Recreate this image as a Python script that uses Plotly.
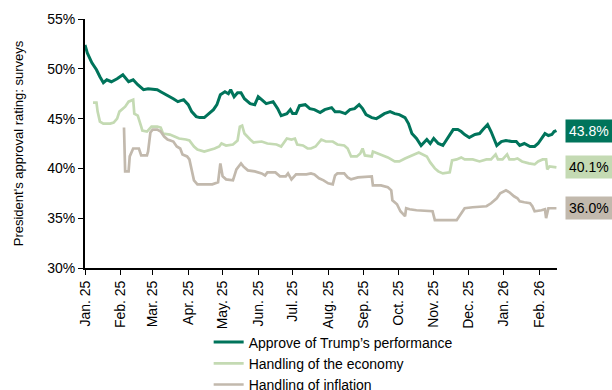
import plotly.graph_objects as go

# ---------------- data ----------------
approve_dates = [
    "2025-01-01", "2025-01-03", "2025-01-07", "2025-01-11", "2025-01-14", "2025-01-17", "2025-01-20",
    "2025-01-24", "2025-01-29", "2025-02-03", "2025-02-08", "2025-02-12", "2025-02-16", "2025-02-21",
    "2025-02-25", "2025-03-05", "2025-03-08", "2025-03-13", "2025-03-19", "2025-03-23", "2025-03-28",
    "2025-04-01", "2025-04-04", "2025-04-08", "2025-04-11", "2025-04-15", "2025-04-18", "2025-04-23",
    "2025-04-26", "2025-04-29", "2025-05-03", "2025-05-06", "2025-05-08", "2025-05-11", "2025-05-14",
    "2025-05-17", "2025-05-20", "2025-05-25", "2025-05-29", "2025-06-01", "2025-06-04", "2025-06-08",
    "2025-06-14", "2025-06-18", "2025-06-21", "2025-06-26", "2025-06-29", "2025-07-01", "2025-07-04",
    "2025-07-07", "2025-07-12", "2025-07-16", "2025-07-20", "2025-07-25", "2025-07-29", "2025-08-04",
    "2025-08-07", "2025-08-11", "2025-08-16", "2025-08-20", "2025-08-24", "2025-08-28", "2025-08-31",
    "2025-09-03", "2025-09-08", "2025-09-12", "2025-09-15", "2025-09-19", "2025-09-24", "2025-09-28",
    "2025-10-02", "2025-10-07", "2025-10-10", "2025-10-13", "2025-10-17", "2025-10-21", "2025-10-26",
    "2025-10-29", "2025-11-01", "2025-11-05", "2025-11-09", "2025-11-13", "2025-11-18", "2025-11-22",
    "2025-11-25", "2025-11-28", "2025-12-02", "2025-12-07", "2025-12-11", "2025-12-14", "2025-12-18",
    "2025-12-21", "2025-12-26", "2025-12-30", "2026-01-03", "2026-01-08", "2026-01-12", "2026-01-15",
    "2026-01-19", "2026-01-24", "2026-01-28", "2026-01-31", "2026-02-03", "2026-02-06", "2026-02-09",
    "2026-02-12", "2026-02-14", "2026-02-16",
]
approve_values = [
    52.4, 51.6, 50.6, 49.9, 49.2, 48.6, 48.9,
    48.7, 49.0, 49.4, 48.7, 48.9, 48.4, 47.9,
    48.0, 47.9, 47.7, 47.4, 47.0, 46.7, 46.9,
    46.4, 45.7, 45.2, 45.1, 45.1, 45.4, 45.9,
    46.4, 47.4, 47.7, 47.5, 47.9, 47.2, 47.6,
    47.6, 47.0, 46.5, 46.4, 47.2, 46.9, 46.5,
    46.7, 46.0, 45.3, 45.5, 45.9, 45.5, 45.5,
    46.3, 46.4, 46.0, 45.9, 45.6, 45.9, 46.1,
    45.7, 45.7, 45.5, 45.9, 46.0, 46.4, 46.0,
    45.4, 45.1, 45.0, 45.2, 45.5, 45.7, 45.5,
    45.4, 45.1, 44.5, 43.5, 43.0, 42.3, 42.9,
    42.5, 43.0, 42.5, 42.3, 43.0, 43.9, 43.9,
    43.7, 43.4, 43.1, 43.4, 43.5, 43.9, 44.4,
    43.7, 42.3, 42.7, 42.8, 42.7, 42.7, 42.3,
    42.5, 42.2, 42.2, 42.5, 43.0, 43.5, 43.3,
    43.4, 43.7, 43.8,
]

economy_dates = [
    "2025-01-08", "2025-01-11", "2025-01-12", "2025-01-14", "2025-01-17", "2025-01-23", "2025-01-26",
    "2025-01-29", "2025-01-31", "2025-02-05", "2025-02-08", "2025-02-11", "2025-02-12", "2025-02-13",
    "2025-02-16", "2025-02-19", "2025-02-20", "2025-02-24", "2025-02-28", "2025-03-05", "2025-03-08",
    "2025-03-10", "2025-03-16", "2025-03-20", "2025-03-24", "2025-03-30", "2025-04-02", "2025-04-06",
    "2025-04-09", "2025-04-15", "2025-04-19", "2025-04-24", "2025-04-28", "2025-04-30", "2025-05-04",
    "2025-05-10", "2025-05-14", "2025-05-16", "2025-05-18", "2025-05-20", "2025-05-25", "2025-05-28",
    "2025-06-04", "2025-06-09", "2025-06-17", "2025-06-21", "2025-06-26", "2025-06-30", "2025-07-03",
    "2025-07-05", "2025-07-10", "2025-07-14", "2025-07-17", "2025-07-21", "2025-07-26", "2025-07-30",
    "2025-08-05", "2025-08-09", "2025-08-15", "2025-08-18", "2025-08-21", "2025-08-26", "2025-08-29",
    "2025-08-31", "2025-09-02", "2025-09-08", "2025-09-09", "2025-09-16", "2025-09-22", "2025-09-28",
    "2025-10-02", "2025-10-07", "2025-10-11", "2025-10-15", "2025-10-19", "2025-10-26", "2025-10-29",
    "2025-11-02", "2025-11-05", "2025-11-09", "2025-11-15", "2025-11-17", "2025-11-21", "2025-11-25",
    "2025-11-28", "2025-12-05", "2025-12-11", "2025-12-17", "2025-12-21", "2025-12-25", "2025-12-27",
    "2025-12-31", "2026-01-04", "2026-01-06", "2026-01-10", "2026-01-13", "2026-01-17", "2026-01-23",
    "2026-01-28", "2026-01-31", "2026-02-04", "2026-02-07", "2026-02-08", "2026-02-10", "2026-02-16",
]
economy_values = [
    46.6, 46.6, 45.7, 44.7, 44.5, 44.5, 44.6,
    45.0, 45.7, 46.2, 46.7, 46.9, 46.9, 45.5,
    45.3, 44.2, 43.8, 43.7, 44.2, 44.2, 44.1,
    43.5, 43.4, 43.2, 43.0, 42.9, 42.8, 42.2,
    41.9, 41.7, 41.8, 42.0, 42.2, 42.5, 42.3,
    42.4, 42.8, 44.2, 44.3, 43.5, 42.9, 42.6,
    42.7, 42.5, 42.4, 42.2, 43.0, 42.9, 43.0,
    42.4, 42.3, 42.0, 42.0, 42.2, 42.9, 42.7,
    42.7, 42.4, 42.3, 42.0, 41.2, 41.2, 41.5,
    42.0, 41.3, 41.2, 41.7, 41.4, 41.1, 40.7,
    40.7, 41.0, 41.2, 41.4, 41.6, 41.2, 40.6,
    40.0, 39.7, 39.5, 39.6, 40.8, 40.9, 41.1,
    40.9, 40.9, 40.7, 40.9, 40.9, 41.4, 40.9,
    40.9, 41.4, 40.9, 40.9, 41.0, 40.7, 40.5,
    40.4, 40.7, 40.9, 40.9, 39.9, 40.2, 40.1,
]

inflation_dates = [
    "2025-02-04", "2025-02-05", "2025-02-08", "2025-02-09", "2025-02-12", "2025-02-17", "2025-02-19",
    "2025-02-24", "2025-02-25", "2025-02-27", "2025-03-01", "2025-03-05", "2025-03-08", "2025-03-11",
    "2025-03-14", "2025-03-19", "2025-03-22", "2025-03-25", "2025-03-27", "2025-03-31", "2025-04-02",
    "2025-04-04", "2025-04-06", "2025-04-09", "2025-04-22", "2025-04-27", "2025-04-29", "2025-05-01",
    "2025-05-04", "2025-05-10", "2025-05-13", "2025-05-17", "2025-05-19", "2025-05-23", "2025-05-29",
    "2025-06-04", "2025-06-07", "2025-06-09", "2025-06-16", "2025-06-20", "2025-06-25", "2025-06-27",
    "2025-06-30", "2025-07-04", "2025-07-13", "2025-07-17", "2025-07-20", "2025-07-24", "2025-07-28",
    "2025-08-01", "2025-08-05", "2025-08-07", "2025-08-09", "2025-08-15", "2025-08-18", "2025-08-21",
    "2025-08-27", "2025-09-08", "2025-09-09", "2025-09-16", "2025-09-22", "2025-09-25", "2025-09-26",
    "2025-09-30", "2025-10-03", "2025-10-07", "2025-10-08", "2025-10-11", "2025-10-17", "2025-10-31",
    "2025-11-02", "2025-11-21", "2025-11-25", "2025-11-28", "2025-12-05", "2025-12-17", "2025-12-21",
    "2025-12-26", "2025-12-29", "2026-01-03", "2026-01-06", "2026-01-10", "2026-01-13", "2026-01-15",
    "2026-01-19", "2026-01-24", "2026-01-26", "2026-01-28", "2026-02-03", "2026-02-06", "2026-02-07",
    "2026-02-09", "2026-02-16",
]
inflation_values = [
    44.1, 39.7, 39.7, 41.2, 42.0, 42.0, 41.3,
    41.3, 41.7, 43.6, 43.9, 43.9, 43.7, 43.2,
    42.9, 42.7, 42.2, 42.0, 41.4, 41.2, 40.9,
    40.0, 38.8, 38.4, 38.4, 38.6, 40.5, 39.2,
    38.9, 38.8, 39.9, 40.5, 40.2, 39.8, 39.7,
    39.5, 39.3, 39.6, 39.6, 39.2, 39.2, 39.5,
    38.9, 39.4, 39.4, 39.5, 39.4, 39.0, 38.8,
    38.5, 38.4, 39.3, 39.5, 39.5, 39.1, 38.9,
    39.1, 39.2, 38.3, 38.3, 38.1, 37.8, 36.8,
    36.4, 35.7, 35.2, 36.0, 35.9, 35.8, 35.7,
    34.8, 34.8, 35.5, 36.0, 36.1, 36.2, 36.5,
    37.0, 37.5, 37.8, 37.6, 37.2, 37.0, 36.7,
    36.6, 36.5, 36.2, 35.7, 35.8, 35.9, 35.0,
    36.0, 36.0,
]

series_names = ["Approve of Trump\u2019s performance", "Handling of the economy", "Handling of inflation"]
end_labels = ["43.8%", "40.1%", "36.0%"]

tick_dates = ["2025-01-01", "2025-02-01", "2025-03-01", "2025-04-01", "2025-05-01", "2025-06-01",
              "2025-07-01", "2025-08-01", "2025-09-01", "2025-10-01", "2025-11-01", "2025-12-01",
              "2026-01-01", "2026-02-01"]
tick_labels = ["Jan. 25", "Feb. 25", "Mar. 25", "Apr. 25", "May. 25", "Jun. 25", "Jul. 25",
               "Aug. 25", "Sep. 25", "Oct. 25", "Nov. 25", "Dec. 25", "Jan. 26", "Feb. 26"]
y_ticks = [30, 35, 40, 45, 50, 55]
y_tick_labels = ["30%", "35%", "40%", "45%", "50%", "55%"]

# ---------------- style ----------------
colors = ["#00745B", "#C4DAB3", "#C2B9AD"]
label_font_colors = ["#FFFFFF", "#000000", "#000000"]
widths = [3, 2.7, 2.7]
FONT = "Arial, Liberation Sans, sans-serif"

fig = go.Figure()
all_x = [approve_dates, economy_dates, inflation_dates]
all_y = [approve_values, economy_values, inflation_values]
for name, xs, ys, c, w in zip(series_names, all_x, all_y, colors, widths):
    fig.add_trace(go.Scatter(x=xs, y=ys, mode="lines", name=name,
                             line=dict(color=c, width=w)))

for ys, lab, c, fc in zip(all_y, end_labels, colors, label_font_colors):
    fig.add_annotation(x=1, xref="paper", xanchor="left", xshift=8,
                       y=ys[-1], yref="y", yanchor="middle",
                       text=lab, showarrow=False, bgcolor=c, borderpad=3,
                       font=dict(family=FONT, size=14, color=fc))

fig.update_layout(
    width=612, height=390,
    margin=dict(l=85, r=55, t=19, b=122, autoexpand=False),
    paper_bgcolor="white", plot_bgcolor="white",
    font=dict(family=FONT, size=14, color="#000000"),
    showlegend=True,
    legend=dict(x=0.262, y=-0.235, xanchor="left", yanchor="top",
                font=dict(family=FONT, size=14, color="#000000"),
                bgcolor="rgba(0,0,0,0)", tracegroupgap=0, itemwidth=30),
)
fig.update_xaxes(
    type="date", range=["2025-01-01", "2026-02-16 12:00"],
    tickmode="array", tickvals=tick_dates, ticktext=tick_labels, tickangle=-90,
    showline=True, linecolor="#000000", linewidth=2,
    ticks="outside", ticklen=5, tickwidth=1, tickcolor="#000000",
    showgrid=False, zeroline=False,
    tickfont=dict(family=FONT, size=14, color="#000000"),
)
fig.update_yaxes(
    range=[30, 55], tickmode="array", tickvals=y_ticks, ticktext=y_tick_labels,
    showline=True, linecolor="#000000", linewidth=2,
    ticks="outside", ticklen=5, tickwidth=1, tickcolor="#000000",
    showgrid=False, zeroline=False,
    tickfont=dict(family=FONT, size=14, color="#000000"),
    title=dict(text="President's approval rating: surveys", standoff=21,
               font=dict(family=FONT, size=13, color="#000000")),
)

fig.write_html("out.html")
